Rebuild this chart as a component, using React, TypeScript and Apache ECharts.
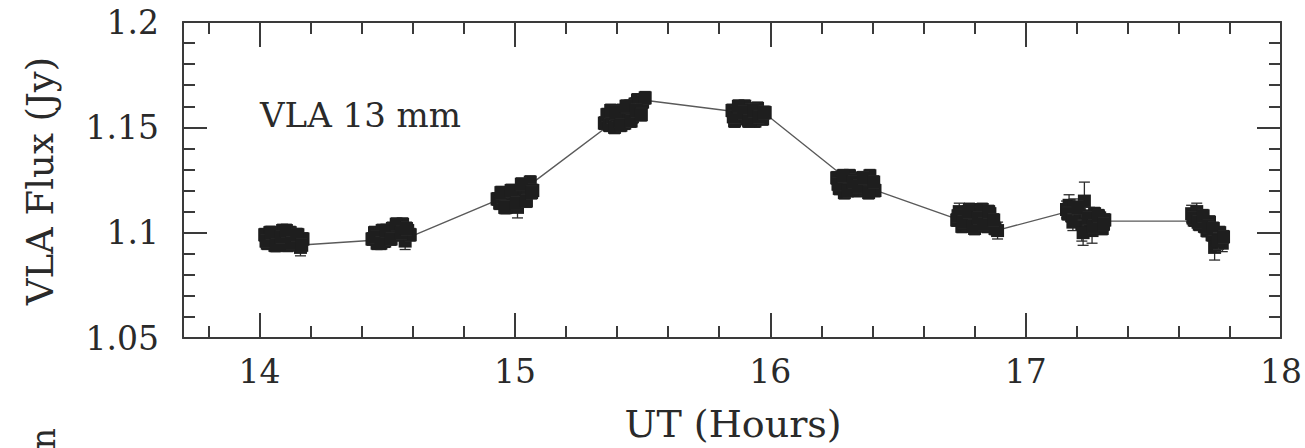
import React, { useEffect, useRef } from "react";
import * as echarts from "echarts";

// Individual 13 mm VLA measurements (UT hours, flux Jy, 1-sigma error Jy), one line per scan
const obsTime = [
  14.02, 14.03, 14.04, 14.05, 14.06, 14.07, 14.08, 14.09, 14.10, 14.11, 14.12, 14.13, 14.14, 14.15, 14.16, 14.17, 14.025, 14.045, 14.065, 14.085, 14.105, 14.125, 14.145, 14.165,
  14.44, 14.45, 14.46, 14.47, 14.48, 14.49, 14.50, 14.51, 14.52, 14.53, 14.54, 14.55, 14.56, 14.57, 14.58, 14.59, 14.455, 14.475, 14.495, 14.515, 14.535, 14.555, 14.575,
  14.93, 14.94, 14.95, 14.96, 14.97, 14.98, 14.99, 15.00, 15.01, 15.02, 15.03, 15.04, 15.05, 15.06, 15.07, 14.945, 14.965, 14.985, 15.005, 15.025, 15.045, 15.065,
  15.35, 15.36, 15.37, 15.38, 15.39, 15.40, 15.41, 15.42, 15.43, 15.44, 15.45, 15.46, 15.47, 15.48, 15.49, 15.50, 15.51, 15.375, 15.395, 15.415, 15.435, 15.455, 15.475, 15.495,
  15.85, 15.86, 15.87, 15.88, 15.89, 15.90, 15.91, 15.92, 15.93, 15.94, 15.95, 15.96, 15.97, 15.98, 15.855, 15.875, 15.895, 15.915, 15.935, 15.955, 15.975,
  16.26, 16.27, 16.28, 16.29, 16.30, 16.31, 16.32, 16.33, 16.34, 16.35, 16.36, 16.37, 16.38, 16.39, 16.40, 16.41, 16.265, 16.285, 16.305, 16.325, 16.345, 16.365, 16.385, 16.405,
  16.73, 16.74, 16.75, 16.76, 16.77, 16.78, 16.79, 16.80, 16.81, 16.82, 16.83, 16.84, 16.85, 16.86, 16.87, 16.88, 16.89, 16.735, 16.755, 16.775, 16.795, 16.815, 16.835, 16.855, 16.875,
  17.16, 17.17, 17.18, 17.19, 17.20, 17.21, 17.22, 17.23, 17.24, 17.25, 17.26, 17.27, 17.28, 17.29, 17.30, 17.31, 17.165, 17.185, 17.205, 17.225, 17.245, 17.265, 17.285, 17.305,
  17.65, 17.66, 17.67, 17.68, 17.69, 17.70, 17.71, 17.72, 17.73, 17.74, 17.75, 17.76, 17.77, 17.655, 17.675, 17.695, 17.715, 17.735, 17.755, 17.775,
];
const obsFlux = [
  1.099, 1.095, 1.100, 1.097, 1.094, 1.099, 1.096, 1.101, 1.098, 1.094, 1.100, 1.097, 1.095, 1.099, 1.093, 1.097, 1.096, 1.100, 1.094, 1.098, 1.101, 1.095, 1.099, 1.094,
  1.097, 1.100, 1.095, 1.099, 1.101, 1.096, 1.100, 1.098, 1.102, 1.099, 1.103, 1.100, 1.104, 1.096, 1.101, 1.099, 1.098, 1.095, 1.101, 1.097, 1.104, 1.100, 1.102,
  1.116, 1.114, 1.117, 1.112, 1.116, 1.118, 1.113, 1.117, 1.112, 1.119, 1.121, 1.117, 1.122, 1.124, 1.120, 1.119, 1.112, 1.120, 1.114, 1.123, 1.115, 1.119,
  1.152, 1.156, 1.151, 1.155, 1.150, 1.156, 1.153, 1.158, 1.152, 1.156, 1.160, 1.155, 1.161, 1.163, 1.158, 1.162, 1.164, 1.158, 1.157, 1.151, 1.160, 1.153, 1.158, 1.156,
  1.158, 1.153, 1.156, 1.159, 1.155, 1.160, 1.154, 1.158, 1.156, 1.153, 1.159, 1.156, 1.154, 1.157, 1.155, 1.160, 1.157, 1.153, 1.158, 1.155, 1.157,
  1.126, 1.121, 1.124, 1.119, 1.123, 1.127, 1.121, 1.125, 1.120, 1.124, 1.126, 1.121, 1.125, 1.127, 1.122, 1.120, 1.123, 1.127, 1.120, 1.124, 1.122, 1.126, 1.119, 1.124,
  1.106, 1.110, 1.103, 1.108, 1.104, 1.111, 1.105, 1.102, 1.109, 1.106, 1.111, 1.107, 1.103, 1.109, 1.105, 1.102, 1.101, 1.108, 1.105, 1.110, 1.103, 1.107, 1.104, 1.110, 1.106,
  1.111, 1.113, 1.108, 1.112, 1.106, 1.110, 1.104, 1.115, 1.103, 1.108, 1.101, 1.109, 1.105, 1.107, 1.102, 1.106, 1.109, 1.105, 1.112, 1.100, 1.107, 1.103, 1.108, 1.104,
  1.109, 1.106, 1.110, 1.104, 1.107, 1.103, 1.101, 1.105, 1.099, 1.093, 1.097, 1.100, 1.095, 1.107, 1.105, 1.108, 1.103, 1.102, 1.096, 1.098,
];
const obsErr = [
  0.003, 0.003, 0.003, 0.003, 0.003, 0.003, 0.003, 0.003, 0.003, 0.003, 0.003, 0.004, 0.003, 0.003, 0.004, 0.003, 0.003, 0.003, 0.003, 0.003, 0.003, 0.003, 0.003, 0.003,
  0.003, 0.003, 0.003, 0.003, 0.003, 0.003, 0.003, 0.003, 0.003, 0.003, 0.003, 0.003, 0.003, 0.004, 0.003, 0.003, 0.003, 0.003, 0.003, 0.003, 0.003, 0.003, 0.003,
  0.003, 0.003, 0.003, 0.003, 0.003, 0.003, 0.003, 0.003, 0.005, 0.003, 0.003, 0.003, 0.003, 0.003, 0.003, 0.003, 0.003, 0.003, 0.003, 0.003, 0.003, 0.003,
  0.003, 0.003, 0.003, 0.003, 0.003, 0.003, 0.003, 0.003, 0.003, 0.003, 0.003, 0.003, 0.003, 0.003, 0.003, 0.003, 0.003, 0.003, 0.003, 0.003, 0.003, 0.003, 0.003, 0.003,
  0.003, 0.003, 0.004, 0.003, 0.003, 0.003, 0.003, 0.003, 0.003, 0.003, 0.003, 0.003, 0.003, 0.003, 0.003, 0.003, 0.003, 0.003, 0.003, 0.003, 0.003,
  0.003, 0.003, 0.003, 0.003, 0.003, 0.003, 0.003, 0.003, 0.003, 0.003, 0.003, 0.003, 0.003, 0.003, 0.003, 0.003, 0.003, 0.003, 0.003, 0.003, 0.003, 0.003, 0.003, 0.003,
  0.003, 0.004, 0.003, 0.003, 0.003, 0.003, 0.003, 0.003, 0.003, 0.003, 0.003, 0.003, 0.003, 0.003, 0.003, 0.003, 0.004, 0.003, 0.003, 0.003, 0.003, 0.003, 0.003, 0.003, 0.003,
  0.004, 0.005, 0.003, 0.004, 0.003, 0.004, 0.008, 0.009, 0.003, 0.004, 0.006, 0.003, 0.004, 0.003, 0.003, 0.003, 0.003, 0.004, 0.003, 0.006, 0.003, 0.003, 0.003, 0.003,
  0.004, 0.003, 0.004, 0.003, 0.003, 0.003, 0.003, 0.003, 0.003, 0.006, 0.003, 0.003, 0.004, 0.003, 0.003, 0.003, 0.003, 0.003, 0.004, 0.003,
];

// Connecting line through scan averages
const meanTime = [14.15, 14.58, 15.04, 15.5, 15.99, 16.31, 16.87, 17.15, 17.27, 17.67];
const meanFlux = [1.094, 1.0975, 1.121, 1.163, 1.1555, 1.1245, 1.1005, 1.1095, 1.1055, 1.1055];

// Axis ticks
const xMajorTicks = [14, 15, 16, 17, 18];
const xMinorTicks = [13.8, 14.2, 14.4, 14.6, 14.8, 15.2, 15.4, 15.6, 15.8, 16.2, 16.4, 16.6, 16.8, 17.2, 17.4, 17.6, 17.8];
const yMajorTicks = [1.05, 1.1, 1.15, 1.2];
const yMinorTicks = [1.06, 1.07, 1.08, 1.09, 1.11, 1.12, 1.13, 1.14, 1.16, 1.17, 1.18, 1.19];

const xTitle = "UT (Hours)";
const yTitle = "VLA Flux (Jy)";
const panelLabel = "VLA 13 mm";

const FONT = "DejaVu Serif";
const INK = "#2a2a2a";
const AXIS = "#3a3a3a";

export default function App() {
  const ref = useRef<HTMLDivElement>(null);

  useEffect(() => {
    document.body.style.margin = "0";
    document.body.style.overflow = "hidden";
    const chart = echarts.init(ref.current!, null, { renderer: "svg" });

    const xMin = 13.7, xMax = 18, yMin = 1.05, yMax = 1.2;
    const lineStyle = { color: AXIS, width: 2 };
    const mkX = (pos: string, ticks: number[], len: number, showLine: boolean, labels: boolean) => ({
      type: "value",
      position: pos,
      min: xMin,
      max: xMax,
      axisLine: { show: showLine, onZero: false, lineStyle },
      axisTick: { show: true, inside: true, length: len, customValues: ticks, lineStyle },
      axisLabel: labels
        ? { show: true, customValues: ticks, fontFamily: FONT, fontSize: 33, color: INK, margin: 17 }
        : { show: false },
      splitLine: { show: false },
    });
    const mkY = (pos: string, ticks: number[], len: number, showLine: boolean, labels: boolean) => ({
      type: "value",
      position: pos,
      min: yMin,
      max: yMax,
      axisLine: { show: showLine, onZero: false, lineStyle },
      axisTick: { show: true, inside: true, length: len, customValues: ticks, lineStyle },
      axisLabel: labels
        ? { show: true, customValues: ticks, fontFamily: FONT, fontSize: 33, color: INK, margin: 24 }
        : { show: false },
      splitLine: { show: false },
    });

    const obsData = obsTime.map((t, i) => [t, obsFlux[i], obsErr[i] ?? 0.003]);
    const meanData = meanTime.map((t, i) => [t, meanFlux[i]]);

    chart.setOption({
      animation: false,
      grid: { left: 183, right: 23, top: 22, bottom: 110, containLabel: false },
      xAxis: [
        mkX("bottom", xMajorTicks, 25, true, true),
        mkX("bottom", xMinorTicks, 12, false, false),
        mkX("top", xMajorTicks, 25, true, false),
        mkX("top", xMinorTicks, 12, false, false),
      ],
      yAxis: [
        mkY("left", yMajorTicks, 24, true, true),
        mkY("left", yMinorTicks, 12, false, false),
        mkY("right", yMajorTicks, 24, true, false),
        mkY("right", yMinorTicks, 12, false, false),
      ],
      series: [
        {
          type: "line",
          data: meanData,
          showSymbol: false,
          symbol: "none",
          lineStyle: { color: "#5a5a5a", width: 1.4 },
          z: 2,
        },
        {
          type: "custom",
          data: obsData,
          z: 3,
          renderItem: (params: any, api: any) => {
            const t = api.value(0), f = api.value(1), e = api.value(2);
            const c = api.coord([t, f]);
            const hi = api.coord([t, f + e]);
            const lo = api.coord([t, f - e]);
            const cap = 5.5;
            const s = 13;
            const st = { stroke: "#2b2b2b", lineWidth: 1.3 };
            return {
              type: "group",
              children: [
                { type: "line", shape: { x1: c[0], y1: hi[1], x2: c[0], y2: lo[1] }, style: st },
                { type: "line", shape: { x1: c[0] - cap, y1: hi[1], x2: c[0] + cap, y2: hi[1] }, style: st },
                { type: "line", shape: { x1: c[0] - cap, y1: lo[1], x2: c[0] + cap, y2: lo[1] }, style: st },
                { type: "rect", shape: { x: c[0] - s / 2, y: c[1] - s / 2, width: s, height: s }, style: { fill: "#1e1e1e" } },
              ],
            };
          },
        },
      ],
      graphic: [
        {
          type: "text",
          left: 260,
          top: 98,
          style: { text: panelLabel, fontFamily: FONT, fontSize: 34, fill: INK },
        },
        {
          type: "text",
          x: 733,
          y: 424,
          style: { text: xTitle, fontFamily: FONT, fontSize: 38, fill: INK, align: "center", verticalAlign: "middle" },
        },
        {
          type: "text",
          x: 40,
          y: 181,
          rotation: Math.PI / 2,
          style: { text: yTitle, fontFamily: FONT, fontSize: 37, fill: INK, align: "center", verticalAlign: "middle" },
        },
        {
          type: "text",
          x: 43,
          y: 428,
          rotation: Math.PI / 2,
          style: { text: "n", fontFamily: FONT, fontSize: 33, fill: INK, align: "right", verticalAlign: "middle" },
        },
      ],
    });

    return () => chart.dispose();
  }, []);

  return <div ref={ref} style={{ width: 1305, height: 448 }} />;
}
